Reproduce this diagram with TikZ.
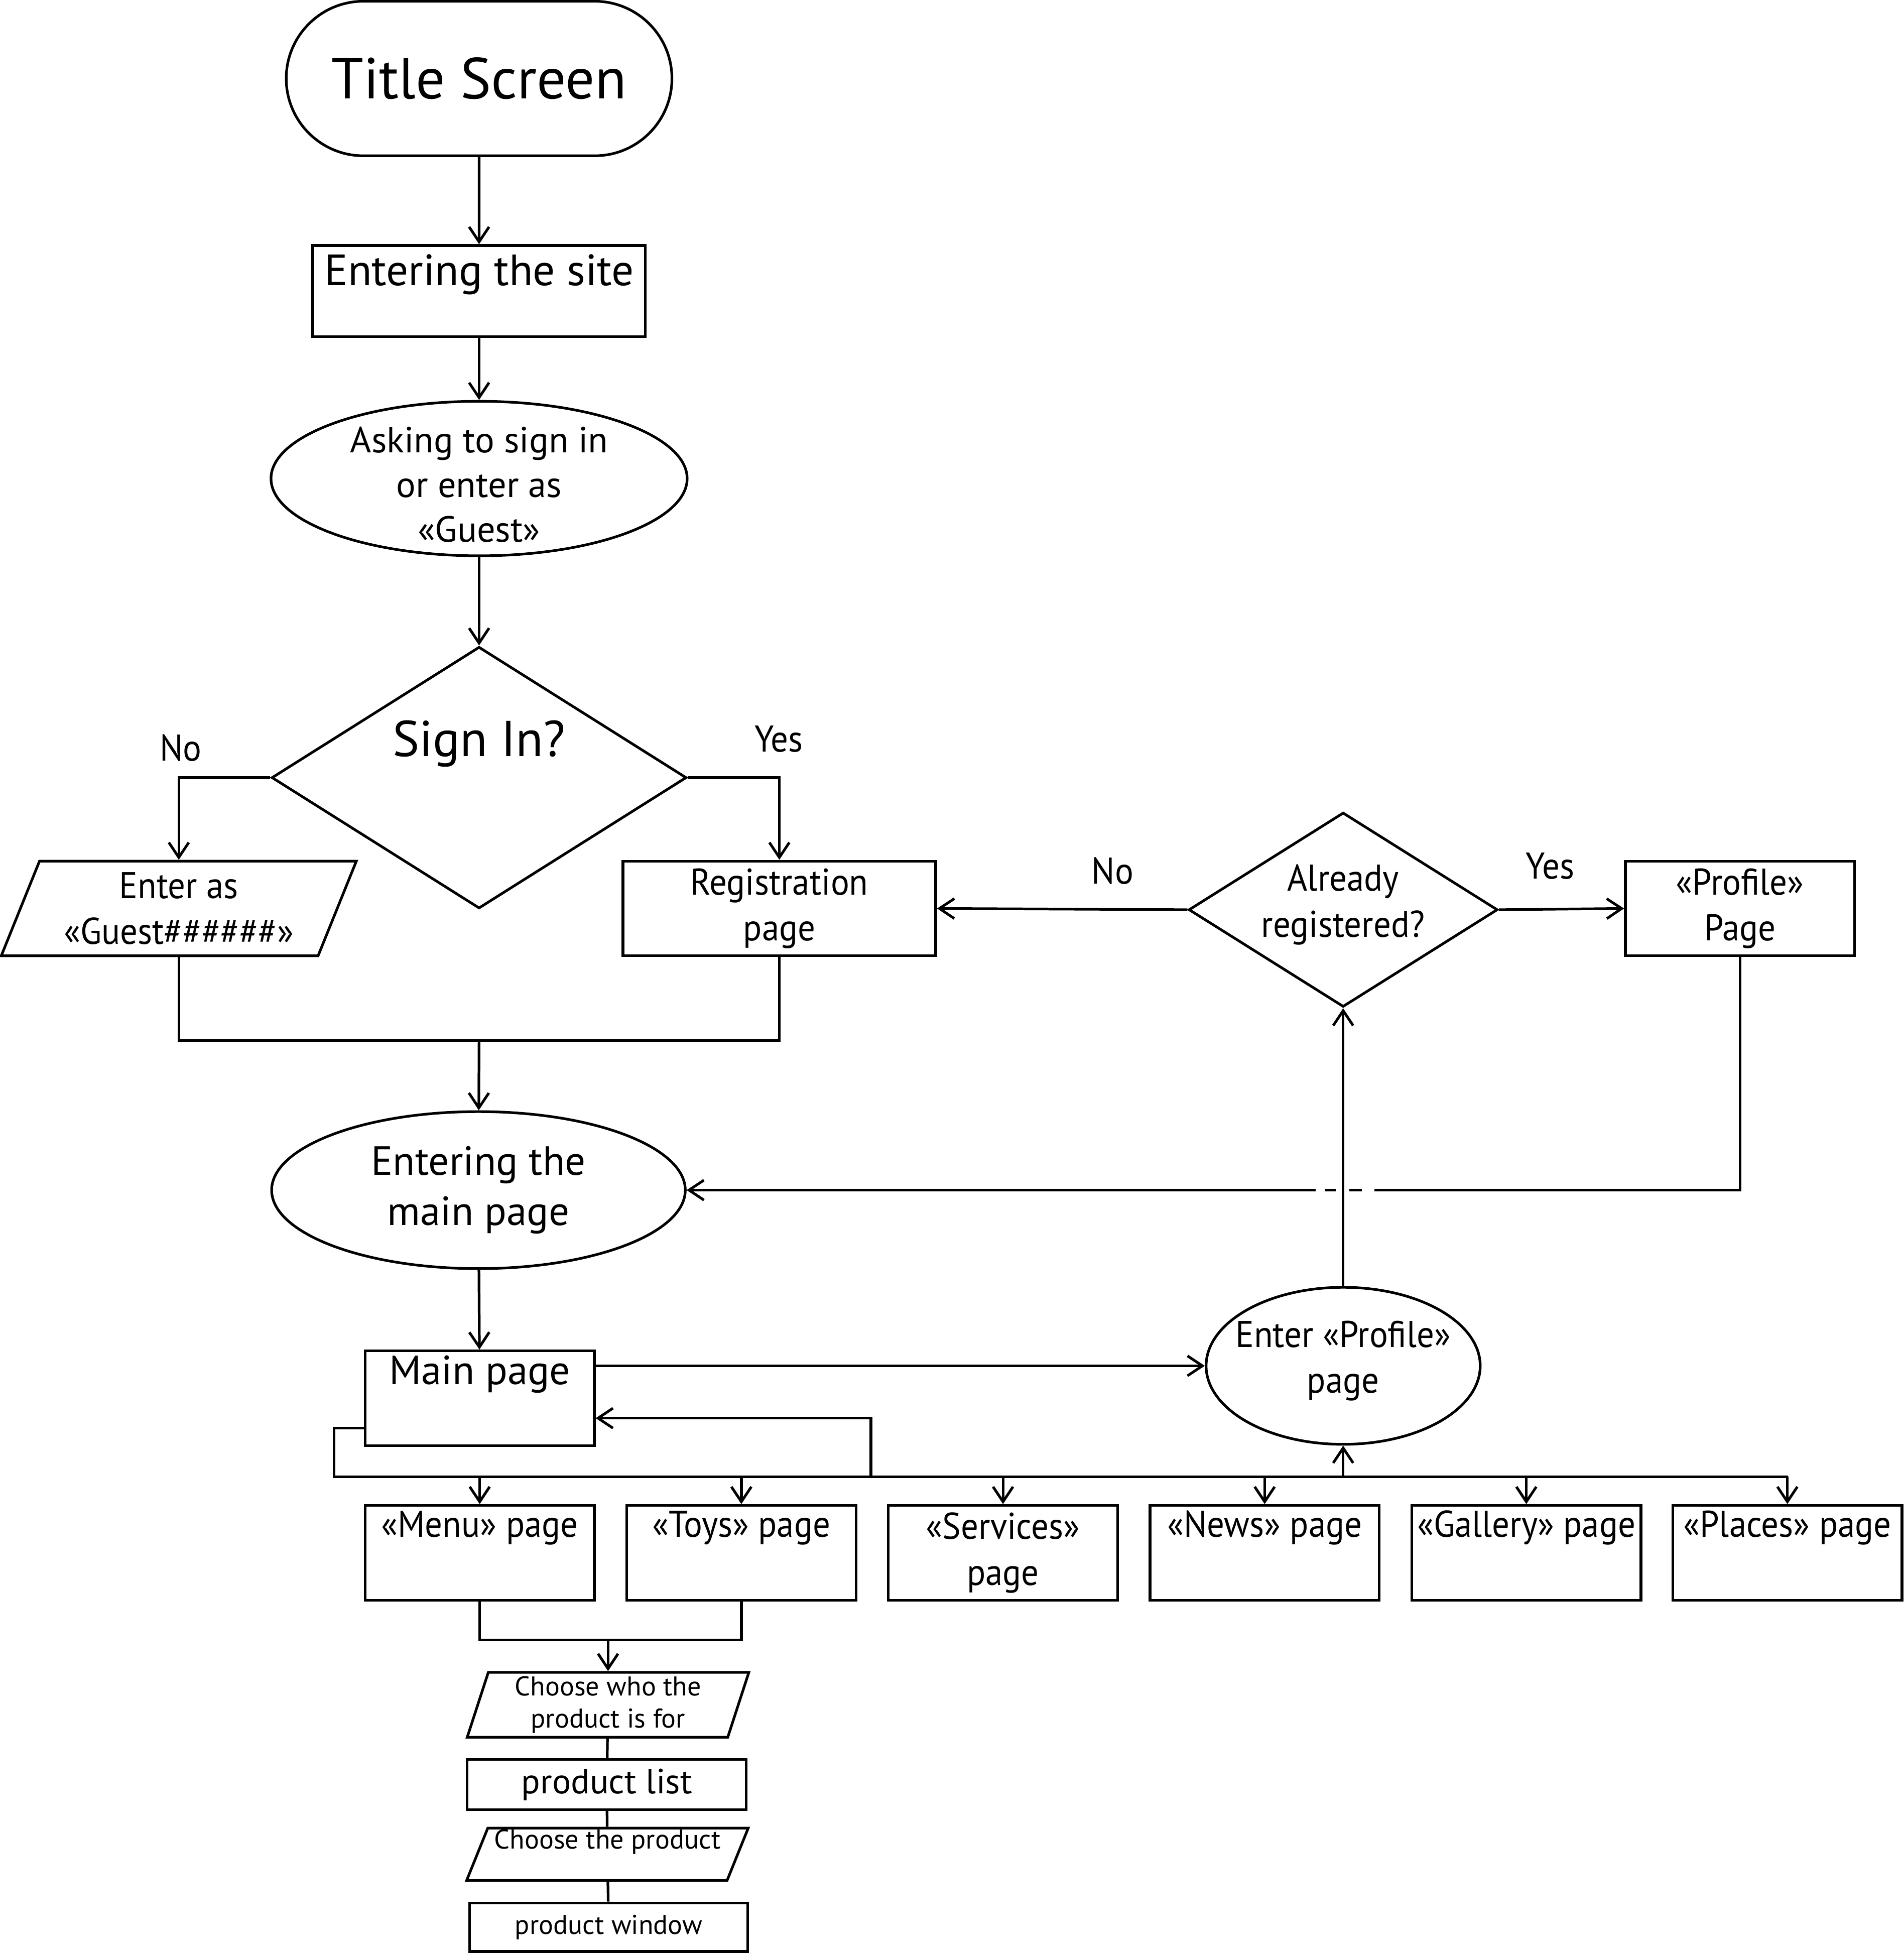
\documentclass[tikz,border=0pt]{standalone}
\usepackage{fontspec}
\setmainfont{PT Sans}
\newfontfamily\narrowfont[FakeStretch=0.93]{PT Sans}
\usetikzlibrary{arrows.meta,shapes.geometric,shapes.misc}
\begin{document}
\begin{tikzpicture}[x=.1mm,y=-.1mm,line width=.6pt,
    arr/.style={-{Straight Barb[length=1.2mm,width=1.6mm]}},
    every label/.style={align=center,inner sep=0pt},
    box/.style={draw,rectangle,minimum width=1.84cm,minimum height=.76cm,inner sep=0pt,align=center},
    oval/.style={draw,ellipse,inner sep=0pt},
    choice/.style={draw,diamond,inner sep=0pt},
    slant/.style={draw,trapezium,trapezium stretches body,inner sep=0pt},
    nw/.style={font=\narrowfont\fontsize{8.5}{10.5}\selectfont},
    big/.style={font=\fontsize{13.2}{16}\selectfont},
    mid/.style={font=\fontsize{9.3}{11.4}\selectfont},
    small/.style={font=\fontsize{6.2}{7.4}\selectfont},
    ]
    \useasboundingbox (0,0) rectangle (1528,1568);
    % top column
    \node (title) [draw,rounded rectangle,minimum width=3.33cm,minimum height=1.24cm,big] at (384.5,63) {Title Screen};
    \node (site) [box,minimum width=2.67cm,minimum height=.73cm,
        label={[font=\fontsize{10}{12}\selectfont,yshift=1.3mm]center:Entering the site}] at (384.5,233.5) {};
    \node (ask) [oval,minimum width=3.34cm,minimum height=1.24cm,
        label={[font=\fontsize{8.3}{10.2}\selectfont,yshift=-.5mm]center:{Asking to sign in\\or enter as\\«Guest»}}] at (384.5,384) {};
    \node (signin) [choice,minimum width=3.33cm,minimum height=2.1cm,
        label={[font=\fontsize{11.5}{14}\selectfont,yshift=2.7mm]center:Sign In?}] at (384.5,624) {};
    \node (no1) [nw] at (145,600) {No};
    \node (yes1) [nw] at (625,593) {Yes};
    \node (guest) [slant,trapezium left angle=68,trapezium right angle=112,
        minimum width=2.85cm,text height=.38cm,text depth=.38cm,
        label={[nw]center:{Enter as\\«Guest\#\#\#\#\#\#»}}] at (143.5,729) {};
    \node (regpage) [box,minimum width=2.51cm,nw] at (625.5,729) {Registration\\page};
    % right part
    \node (already) [choice,minimum width=2.48cm,minimum height=1.56cm,
        label={[nw,yshift=.4mm]center:{Already\\registered?}}] at (1078,730) {};
    \node (no2) [nw] at (893,699) {No};
    \node (yes2) [nw] at (1244,695) {Yes};
    \node (profpage) [box,nw] at (1396.5,729) {«Profile»\\Page};
    \node (mainent) [oval,minimum width=3.32cm,minimum height=1.26cm,
        label={[mid]center:{Entering the\\main page}}] at (384,955) {};
    \node (mainpage) [box,label={[mid,yshift=1.9mm]center:Main page}] at (385,1122) {};
    \node (enterprof) [oval,minimum width=2.2cm,minimum height=1.26cm,
        label={[nw,yshift=.4mm]center:{Enter «Profile»\\page}}] at (1078,1096) {};
    % pages
    \node (menu) [box,label={[nw,yshift=2mm]center:«Menu» page}] at (385,1246) {};
    \node (toys) [box,label={[nw,yshift=2mm]center:«Toys» page}] at (595,1246) {};
    \node (services) [box,nw] at (805,1246) {«Services»\\page};
    \node (news) [box,label={[nw,yshift=2mm]center:«News» page}] at (1015,1246) {};
    \node (gallery) [box,label={[nw,yshift=2mm]center:«Gallery» page}] at (1225,1246) {};
    \node (places) [box,label={[nw,yshift=2mm]center:«Places» page}] at (1434.5,1246) {};
    % product column
    \node (who) [slant,trapezium left angle=72,trapezium right angle=108,
        minimum width=2.26cm,text height=.26cm,text depth=.26cm,
        label={[small]center:{Choose who the\\product is for}}] at (488,1368) {};
    \node (list) [box,minimum width=2.24cm,minimum height=.4cm,font=\fontsize{8}{9}\selectfont] at (487,1432) {product list};
    \node (choose) [slant,trapezium left angle=68,trapezium right angle=112,
        minimum width=2.26cm,text height=.21cm,text depth=.21cm,
        label={[small,yshift=1mm]center:Choose the product}] at (487.5,1488) {};
    \node (window) [box,minimum width=2.23cm,minimum height=.39cm,small] at (488.5,1546.5) {product window};
    % connectors
    \draw[arr] (title) -- (site);
    \draw[arr] (site) -- (ask);
    \draw[arr] (ask) -- (signin);
    \draw[arr] (signin.west) -| (guest.north);
    \draw[arr] (signin.east) -| (regpage.north);
    \coordinate (j1) at (384.5,835);
    \draw (guest.south) |- (j1) -| (regpage.south);
    \draw[arr] (j1) -- (mainent);
    \draw[arr] (mainent) -- (mainpage);
    \draw[arr] (already.west) -- (regpage.east);
    \draw[arr] (already.east) -- (profpage.west);
    \draw[arr] (profpage.south) |- (mainent.east);
    \fill[white] (1056,949) rectangle (1103,961); % <<< jump
    \draw (1063,955) -- (1072,955) (1083,955) -- (1093,955);
    \draw[arr] (enterprof) -- (already);
    \draw[arr] (mainpage.east |- enterprof.west) -- (enterprof.west);
    \coordinate (busL) at (268,1185);
    \coordinate (busR) at (1435,1185);
    \coordinate (busB) at (699,1185);
    \draw ([yshift=-2.4mm]mainpage.west) -| (busL) -- (busR);
    \draw[arr] (busB) |- ([yshift=-1.6mm]mainpage.east);
    \draw[arr] (busL -| menu.north) -- (menu.north);
    \draw[arr] (busL -| toys.north) -- (toys.north);
    \draw[arr] (busL -| services.north) -- (services.north);
    \draw[arr] (busL -| news.north) -- (news.north);
    \draw[arr] (busL -| gallery.north) -- (gallery.north);
    \draw[arr] (busL -| places.north) -- (places.north);
    \draw[arr] (busL -| enterprof.south) -- (enterprof.south);
    \coordinate (j2) at (488,1316);
    \draw (menu.south) |- (j2) -| (toys.south);
    \draw[arr] (j2) -- (who);
    \draw (who) -- (list);
    \draw (list) -- (choose);
    \draw (choose) -- (window);
\end{tikzpicture}
\end{document}
